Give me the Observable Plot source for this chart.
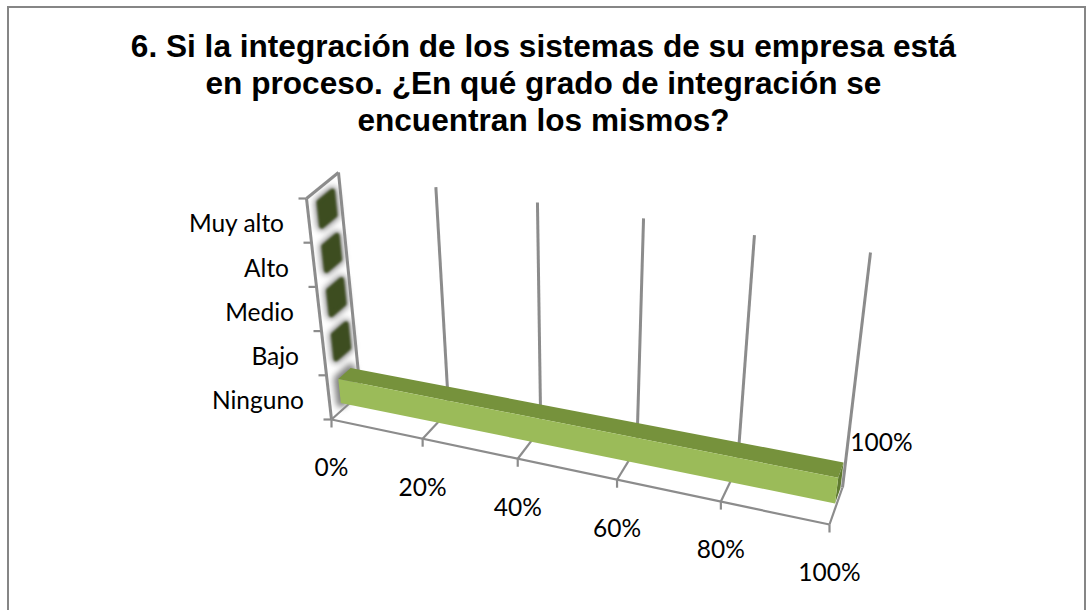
<!DOCTYPE html>
<html><head><meta charset="utf-8">
<script src="https://cdn.jsdelivr.net/npm/d3@7"></script>
<script src="https://cdn.jsdelivr.net/npm/@observablehq/plot@0.6"></script>
<style>
html,body{margin:0;padding:0;background:#fff;}
#wrap{position:relative;width:1087px;height:610px;overflow:hidden;}
#frame{position:absolute;left:7px;top:6px;width:1079px;height:640px;border:2.5px solid #868686;box-sizing:border-box;}
#title{position:absolute;left:0;top:28px;width:1087px;text-align:center;margin:0;font:bold 31.6px/37px "Liberation Sans",Arial,sans-serif;color:#000;}
#chart{position:absolute;left:0;top:0;}
</style></head><body>
<div id="wrap"><div id="frame"></div>
<h1 id="title">6. Si la integración de los sistemas de su empresa está<br>en proceso. ¿En qué grado de integración se<br>encuentran los mismos?</h1>
<div id="chart"></div></div>
<script>
const categories = ["Ninguno","Bajo","Medio","Alto","Muy alto"];
const values = [100,0,0,0,0];
const valueTicks = [0,20,40,60,80,100];

// view of the 3D box: screen corners as [value end][height end][depth end]
const view = {
  c000:[331,419], c100:[829,524], c001:[360,393], c101:[842,487],
  c010:[306,198], c110:[859,284], c011:[338,172], c111:[870,252],
  persp:1.116
};
const barH=[0.17,0.71], barD=[0.35,0.77]; // within a category band / depth
const persp = v=>{const u=v/100; return u/(u+view.persp*(1-u));};
function project(v,cat,d){
  const u=persp(v), h=cat/categories.length;
  const mix=(a,b,t)=>[a[0]+(b[0]-a[0])*t,a[1]+(b[1]-a[1])*t];
  const b0=mix(view.c000,view.c100,u), b1=mix(view.c001,view.c101,u);
  const t0=mix(view.c010,view.c110,u), t1=mix(view.c011,view.c111,u);
  return mix(mix(b0,t0,h),mix(b1,t1,h),d);
}
const pt=(v,c,d,extra)=>{const p=project(v,c,d);return {x:p[0],y:p[1],...extra};};
const quad=(id,pts)=>pts.map(p=>pt(p[0],p[1],p[2],{id}));

// bars: value & category drive the faces
const bars=values.map((v,i)=>({v,i,c0:i+barH[0],c1:i+barH[1]}));
const long=bars.filter(b=>b.v>0);
const zero=bars.filter(b=>b.v===0);
const faces=(list,kind)=>list.flatMap(b=>{
  const {v,c0,c1}=b,[d0,d1]=barD;
  if(kind==="front")return quad("f"+b.i,[[0,c0,d0],[v,c0,d0],[v,c1,d0],[0,c1,d0]]);
  if(kind==="top")return quad("t"+b.i,[[0,c1,d0],[v,c1,d0],[v,c1,d1],[0,c1,d1]]);
  if(kind==="end")return quad("e"+b.i,[[v,c0,d0],[v,c0,d1],[v,c1,d1],[v,c1,d0]]);
});
const cap=(list)=>list.flatMap(b=>quad("c"+b.i,[[0,b.c0,barD[0]],[0,b.c0,barD[1]],[0,b.c1,barD[1]],[0,b.c1,barD[0]]]));
const poly=(data,fill,extra={})=>Plot.line(data,{x:"x",y:"y",z:"id",fill,stroke:"none",curve:"linear-closed",...extra});
const seg=(a,b)=>({x1:a[0],y1:a[1],x2:b[0],y2:b[1]});

const n=categories.length;
const wall=[],floor=[];
// floor front edge, floor depth lines, value ticks, back wall verticals
floor.push(seg(project(0,0,0),project(100,0,0)));
for(const v of valueTicks){
  const a=project(v,0,0);
  floor.push(seg(a,project(v,0,1)));
  floor.push(seg(a,[a[0],a[1]+8]));
  wall.push(seg(project(v,0,1),project(v,n,1)));
}
// side wall
wall.push(seg(project(0,0,0),project(0,n,0)));
wall.push(seg(project(0,n,0),project(0,n,1)));
for(let c=0;c<=n;c++){const a=project(0,c,0);floor.push(seg(a,[a[0]-8,a[1]]));}

const catLabels=categories.map((name,i)=>{const a=project(0,i+.5,0);return {name,x:a[0]-25,y:a[1]+4};});
const valLabels=valueTicks.map(v=>{const a=project(v,0,0);return {name:v+"%",x:a[0],y:a[1]+49};});
const sideLabel=(()=>{const a=project(100,0,1);return [{name:"100%",x:a[0]+39,y:a[1]-44}];})();
const font={fontFamily:"Lato",fontSize:24.5,fill:"#000"};

const chart=Plot.plot({
  width:1087,height:610,margin:0,
  x:{domain:[0,1087],range:[0,1087],axis:null},
  y:{domain:[0,610],range:[0,610],axis:null},
  style:{background:"transparent"},
  marks:[
    poly(cap(bars),"#808080",{stroke:"#808080",strokeWidth:9,imageFilter:"blur(3px)"}),
    poly(cap(zero),"#3d4d20",{stroke:"#3d4d20",strokeWidth:5,imageFilter:"blur(1px)"}),
    Plot.link(wall,{x1:"x1",y1:"y1",x2:"x2",y2:"y2",stroke:"#8c8c8c",strokeWidth:3}),
    Plot.link(floor,{x1:"x1",y1:"y1",x2:"x2",y2:"y2",stroke:"#8c8c8c",strokeWidth:2.2}),
    poly(faces(long,"top"),"#76923c"),
    poly(faces(long,"end"),"#5f7a30"),
    poly(faces(long,"front"),"#9bbb59"),
    Plot.text(catLabels,{x:"x",y:"y",text:"name",textAnchor:"end",...font}),
    Plot.text(valLabels,{x:"x",y:"y",text:"name",...font}),
    Plot.text(sideLabel,{x:"x",y:"y",text:"name",...font})
  ]
});
document.getElementById("chart").appendChild(chart);
</script></body></html>
